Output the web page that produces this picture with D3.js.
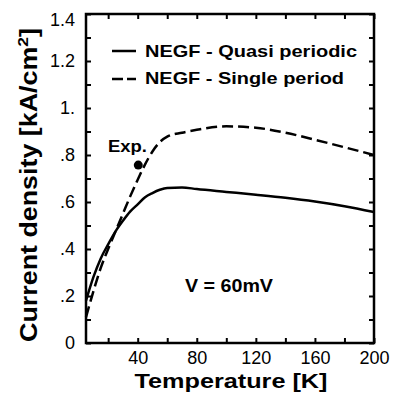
<!DOCTYPE html>
<html>
<head>
<meta charset="utf-8">
<script src="https://cdn.jsdelivr.net/npm/d3@7"></script>
<style>
  body { margin: 0; background: #fff; }
  text { font-family: "Liberation Sans", Arial, Helvetica, sans-serif; fill: #000; }
</style>
</head>
<body>
<svg id="chart" width="393" height="398"></svg>
<script>
// values
const temperature   = [5, 10, 15, 20, 25, 30, 35, 40, 45, 50, 55, 60, 70, 80, 100, 120, 140, 160, 180, 200];
const quasiPeriodic = [0.18, 0.28, 0.36, 0.42, 0.475, 0.52, 0.56, 0.59, 0.62, 0.638, 0.652, 0.66, 0.662, 0.655, 0.643, 0.631, 0.618, 0.602, 0.582, 0.557];
const singlePeriod  = [0.11, 0.22, 0.32, 0.40, 0.475, 0.55, 0.625, 0.695, 0.76, 0.815, 0.855, 0.878, 0.895, 0.907, 0.922, 0.916, 0.895, 0.865, 0.833, 0.80];
const expT = [40.4];
const expJ = [0.757];

const xTicks = [20, 40, 60, 80, 100, 120, 140, 160, 180, 200];
const xLabels = [40, 80, 120, 160, 200];
const yTicks = [0, 0.1, 0.2, 0.3, 0.4, 0.5, 0.6, 0.7, 0.8, 0.9, 1.0, 1.1, 1.2, 1.3, 1.4];
const yLabels = {"0": "0", "0.2": ".2", "0.4": ".4", "0.6": ".6", "0.8": ".8", "1": "1.", "1.2": "1.2", "1.4": "1.4"};

const m = {left: 86, right: 374, top: 14, bottom: 343};

const svg = d3.select('#chart');

const x = d3.scaleLinear().domain([5, 200]).range([m.left, m.right]);
const y = d3.scaleLinear().domain([0, 1.4]).range([m.bottom, m.top]);

function styleAxis(g) {
  g.select('.domain').remove();
  g.selectAll('.tick line').attr('stroke', '#000').attr('stroke-width', 2);
  g.selectAll('.tick text').filter(function () { return !this.textContent; }).remove();
  g.selectAll('.tick text').attr('font-size', 18).attr('font-family', '"Liberation Sans", Arial, sans-serif').attr('fill', '#000');
}

// bottom axis
svg.append('g')
  .attr('transform', `translate(0,${m.bottom})`)
  .call(d3.axisBottom(x).tickValues(xTicks).tickSizeInner(-5).tickSizeOuter(0).tickPadding(8)
    .tickFormat(d => xLabels.includes(d) ? d : ''))
  .call(styleAxis);

// top axis (ticks only)
svg.append('g')
  .attr('transform', `translate(0,${m.top})`)
  .call(d3.axisTop(x).tickValues(xTicks).tickSizeInner(-5).tickSizeOuter(0).tickFormat(''))
  .call(styleAxis);

// left axis
const yAxis = svg.append('g')
  .attr('transform', `translate(${m.left},0)`)
  .call(d3.axisLeft(y).tickValues(yTicks).tickSizeInner(-5).tickSizeOuter(0).tickPadding(11)
    .tickFormat(d => yLabels[String(+d.toFixed(1))] || ''))
  .call(styleAxis);
yAxis.selectAll('.tick').filter(d => Math.abs(d - 1.4) < 1e-6).select('text').attr('dy', '0.65em');

// right axis (ticks only)
svg.append('g')
  .attr('transform', `translate(${m.right},0)`)
  .call(d3.axisRight(y).tickValues(yTicks).tickSizeInner(-5).tickSizeOuter(0).tickFormat(''))
  .call(styleAxis);

// frame
svg.append('rect')
  .attr('x', m.left).attr('y', m.top)
  .attr('width', m.right - m.left).attr('height', m.bottom - m.top)
  .attr('fill', 'none').attr('stroke', '#000').attr('stroke-width', 2.5);

// curves
const line = d3.line()
  .x(d => x(d[0]))
  .y(d => y(d[1]))
  .curve(d3.curveMonotoneX);

svg.append('path')
  .datum(d3.zip(temperature, quasiPeriodic))
  .attr('d', line)
  .attr('fill', 'none').attr('stroke', '#000').attr('stroke-width', 2.5);

svg.append('path')
  .datum(d3.zip(temperature, singlePeriod))
  .attr('d', line)
  .attr('fill', 'none').attr('stroke', '#000').attr('stroke-width', 2.5)
  .attr('stroke-dasharray', '11,5');

// experiment point
svg.selectAll('.exp')
  .data(d3.zip(expT, expJ))
  .enter().append('circle')
  .attr('class', 'exp')
  .attr('cx', d => x(d[0]))
  .attr('cy', d => y(d[1]))
  .attr('r', 4.5)
  .attr('fill', '#000');

svg.append('text')
  .attr('x', 108).attr('y', 152)
  .attr('font-size', 17).attr('font-weight', 'bold')
  .attr('textLength', 39).attr('lengthAdjust', 'spacingAndGlyphs')
  .text('Exp.');

// legend
svg.append('line')
  .attr('x1', 112).attr('x2', 136).attr('y1', 51).attr('y2', 51)
  .attr('stroke', '#000').attr('stroke-width', 2.5);
svg.append('line')
  .attr('x1', 112).attr('x2', 136).attr('y1', 79).attr('y2', 79)
  .attr('stroke', '#000').attr('stroke-width', 2.5)
  .attr('stroke-dasharray', '11,4');

svg.append('text')
  .attr('x', 145).attr('y', 57)
  .attr('font-size', 17).attr('font-weight', 'bold')
  .attr('textLength', 212).attr('lengthAdjust', 'spacingAndGlyphs')
  .text('NEGF - Quasi periodic');
svg.append('text')
  .attr('x', 145).attr('y', 84)
  .attr('font-size', 17).attr('font-weight', 'bold')
  .attr('textLength', 199).attr('lengthAdjust', 'spacingAndGlyphs')
  .text('NEGF - Single period');

svg.append('text')
  .attr('x', 185).attr('y', 292)
  .attr('font-size', 18).attr('font-weight', 'bold')
  .attr('textLength', 88).attr('lengthAdjust', 'spacingAndGlyphs')
  .text('V = 60mV');

// axis titles
svg.append('text')
  .attr('x', 231).attr('y', 388)
  .attr('text-anchor', 'middle')
  .attr('font-size', 21).attr('font-weight', 'bold')
  .attr('textLength', 193).attr('lengthAdjust', 'spacingAndGlyphs')
  .text('Temperature [K]');

const yTitle = svg.append('text')
  .attr('text-anchor', 'middle')
  .attr('font-size', 23).attr('font-weight', 'bold');
yTitle.append('tspan').text('Current density [kA/cm');
yTitle.append('tspan').attr('font-size', 15).attr('dy', -9).text('2');
yTitle.append('tspan').attr('dy', 9).text(']');
const w = yTitle.node().getComputedTextLength();
const sx = 314 / w;
yTitle.attr('transform', `translate(37,185) rotate(-90) scale(${sx},1)`);
</script>
</body>
</html>
